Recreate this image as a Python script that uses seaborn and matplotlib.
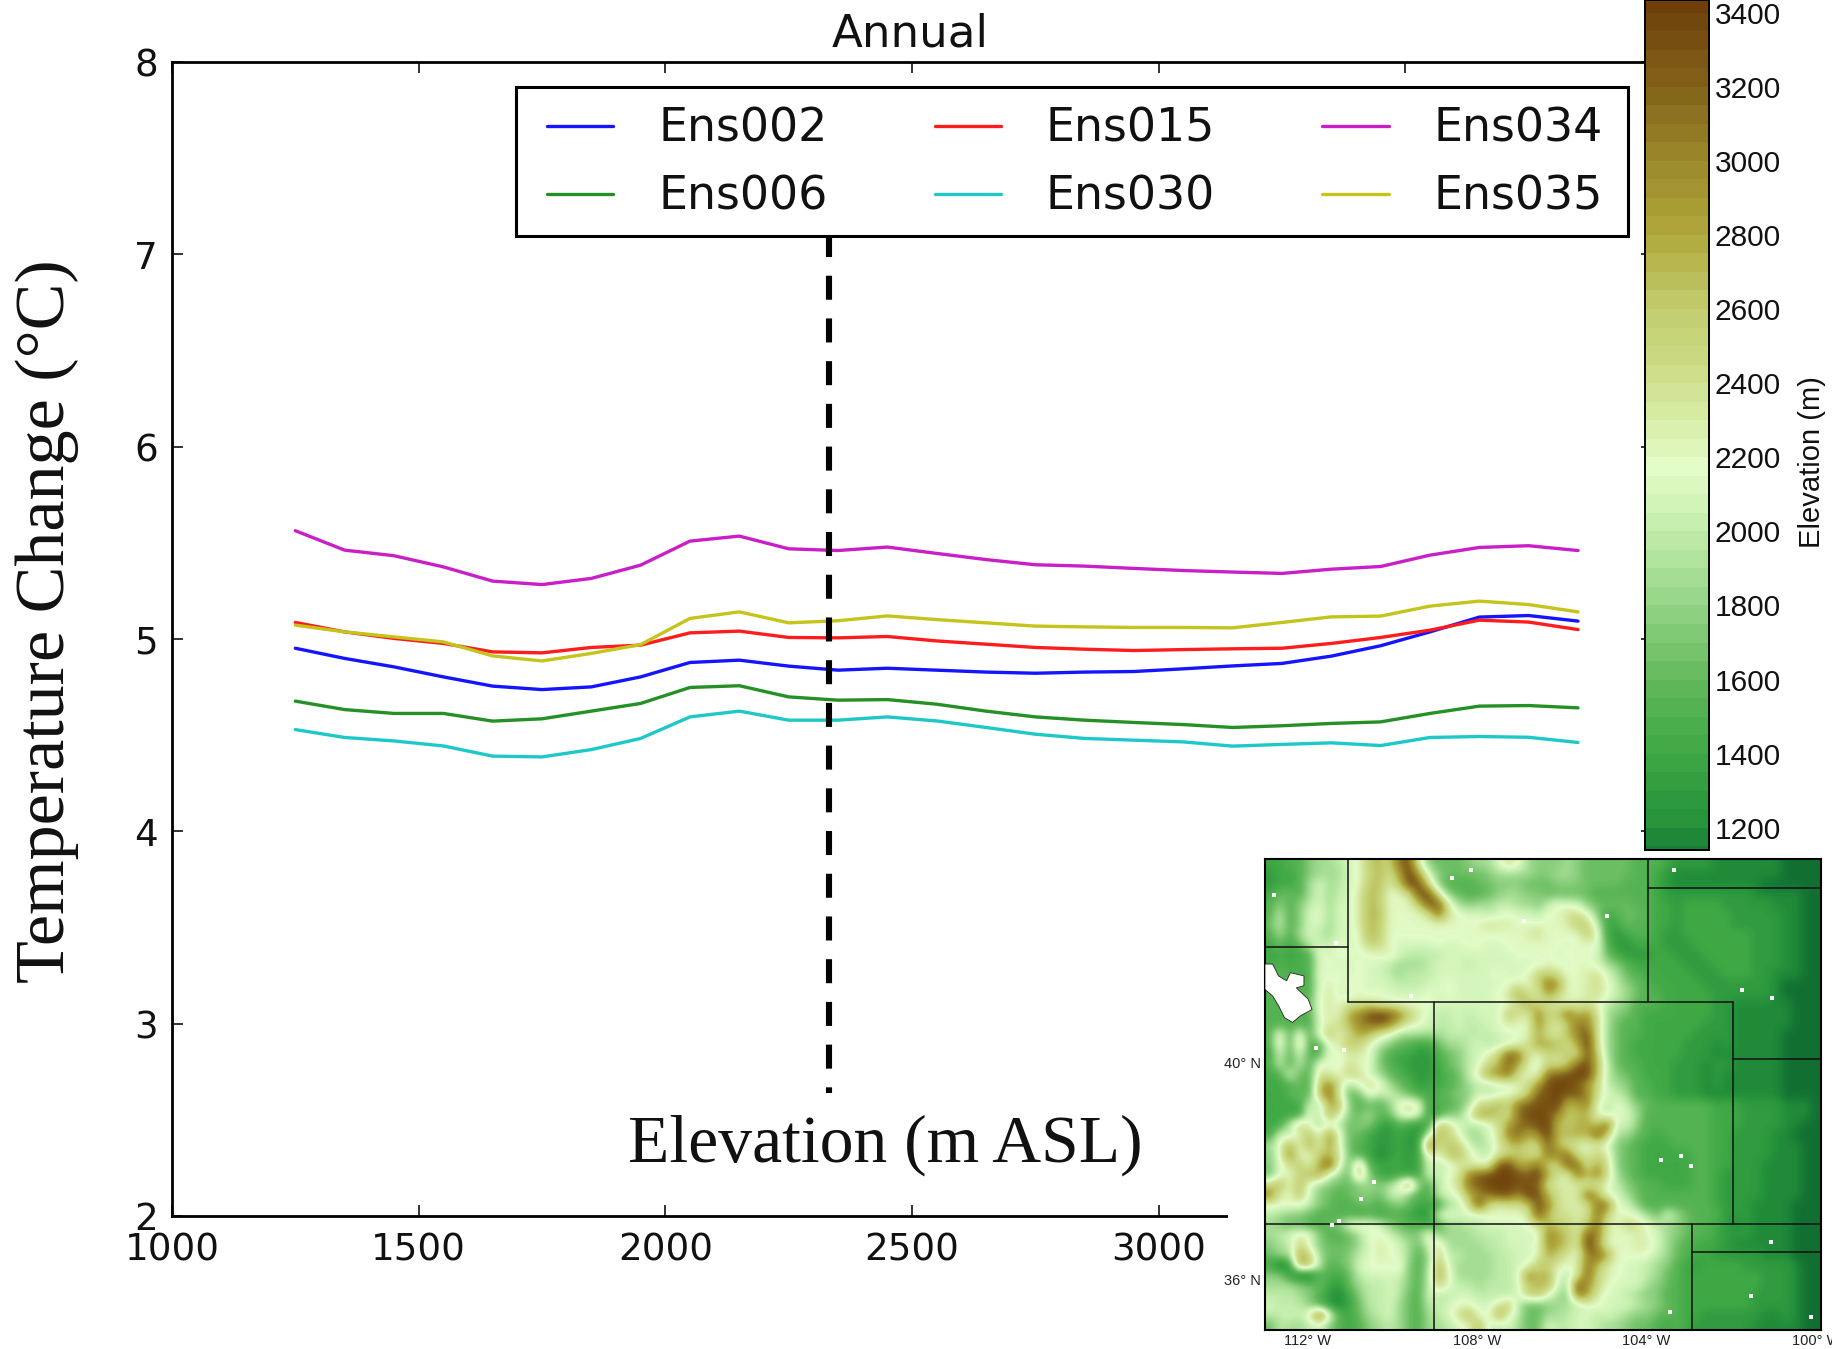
import numpy as np
import pandas as pd
import matplotlib
matplotlib.use("Agg")
import matplotlib.pyplot as plt
from matplotlib.colors import LinearSegmentedColormap
from matplotlib.patches import Rectangle
import seaborn as sns

elevation_bins = [1250, 1350, 1450, 1550, 1650, 1750, 1850, 1950, 2050, 2150, 2250, 2350, 2450, 2550,
                  2650, 2750, 2850, 2950, 3050, 3150, 3250, 3350, 3450, 3550, 3650, 3750, 3850]
ens002 = [4.952, 4.899, 4.855, 4.803, 4.755, 4.737, 4.751, 4.803, 4.878, 4.890, 4.859, 4.838, 4.848, 4.838,
          4.828, 4.822, 4.828, 4.831, 4.845, 4.860, 4.873, 4.911, 4.965, 5.037, 5.114, 5.122, 5.093]
ens006 = [4.677, 4.633, 4.613, 4.613, 4.573, 4.585, 4.625, 4.665, 4.748, 4.757, 4.699, 4.682, 4.685, 4.661,
          4.625, 4.595, 4.578, 4.566, 4.555, 4.540, 4.549, 4.561, 4.569, 4.613, 4.651, 4.654, 4.642]
ens015 = [5.086, 5.037, 5.003, 4.977, 4.933, 4.928, 4.956, 4.968, 5.032, 5.041, 5.008, 5.006, 5.013, 4.990,
          4.973, 4.956, 4.947, 4.940, 4.945, 4.949, 4.952, 4.977, 5.008, 5.046, 5.098, 5.088, 5.049]
ens030 = [4.529, 4.488, 4.470, 4.444, 4.391, 4.387, 4.425, 4.483, 4.595, 4.625, 4.578, 4.578, 4.595, 4.574,
          4.540, 4.505, 4.483, 4.474, 4.465, 4.443, 4.452, 4.460, 4.446, 4.488, 4.493, 4.489, 4.462]
ens034 = [5.563, 5.462, 5.433, 5.375, 5.301, 5.283, 5.315, 5.384, 5.509, 5.535, 5.469, 5.460, 5.478, 5.445,
          5.413, 5.386, 5.379, 5.367, 5.356, 5.348, 5.341, 5.363, 5.377, 5.436, 5.476, 5.485, 5.460]
ens035 = [5.072, 5.037, 5.011, 4.985, 4.912, 4.886, 4.925, 4.971, 5.107, 5.141, 5.084, 5.095, 5.120, 5.101,
          5.084, 5.067, 5.063, 5.060, 5.060, 5.058, 5.086, 5.115, 5.119, 5.171, 5.197, 5.179, 5.141]
series_names = ["Ens002", "Ens006", "Ens015", "Ens030", "Ens034", "Ens035"]
series_colors = ["#1414ff", "#259025", "#ff1c1c", "#1fc8c8", "#c81fc8", "#c4c41c"]

divider_x = [2332, 2332]
divider_y = [7.11, 2.639]

colorbar_ticks = list(range(1200, 3600, 200))
colorbar_levels = list(range(1100, 3500, 50))
cmap_stops = [(1000, "#0a6230"), (1200, "#23903a"), (1400, "#3fa845"), (1600, "#62b95a"), (1800, "#93d485"),
              (2000, "#c3eeac"), (2175, "#e3fcc8"), (2400, "#cfe08f"), (2600, "#c2cd6e"), (2800, "#b0a83c"),
              (3000, "#9c8a2c"), (3200, "#82621a"), (3500, "#683505")]

# terrain read by eye from the inset map: one base-36 digit per cell, metres = 1100 + 100 * digit
terrain_nw = [
    "44557889abfgekmc7666788adb87",
    "34457888abegdhnia76666788887",
    "34458a89abfgcfmme75556677766",
    "46658a89acgfbbdmmd7655678877",
    "57579a8aacgfbbbfmlc878899887",
    "5957ab8aacggbbbbdkdbaa9abaa9",
    "6957aa8aacgfbbbbbbbbbbdccbbb",
    "5858a98aabgfbbbbbbbbbbbbbbcd",
    "46469a9babeebaaaabaabbaabbbb",
    "44445babbabbca9999aaaaaaabbb",
    "45455abaabaa98889aaa9aaaaaaa",
    "55545bababaa98999aaaaaabaabe",
    "55555acabbaaa999aabaaaaabcbe",
    "55555bcaababaaaababaaaabchdc",
    "55556bcbddeccbbbbaaaaaaabdhe",
    "55555bcbhjmnmjfca99a9aaafdcj",
    "55555acdgjkljfcba99a99aacbbi",
    "5c5c5bfbehgcb8888899999aabbh",
    "5c5d55bcfeb9765446889a99abdh",
    "4a5a55baccb7544335679abelkdb",
    "59595bbadbb7543334679aeglhca",
    "45a65dcbeda8654334569chikdbb",
    "44565fjd8bdc86534456899aacdi",
    "44565gkc66b9a86545677a9abbfl",
]
terrain_ne = [
    "7787666665554333322222221111",
    "7887666665543222222222221111",
    "6777666655543222222222111111",
    "6666655555543333333332222211",
    "9baa766665544344443333322211",
    "bbddb74566544344444333332211",
    "bbcfe94465544344444333332211",
    "bbbbfb4345543344444443332211",
    "bbabbb5334443334444443332211",
    "babbba6433344333444443332211",
    "bbabba8754444433344443332211",
    "fdbbcda865444443334443322211",
    "kibbcdb976544444333333321111",
    "hebbcdb986554444433333321111",
    "dcccdb9875554444433222222111",
    "efkgid8765444444433222222111",
    "ecfkjd8655444444333222222111",
    "dcgjmd8655444443333222221111",
    "hgdhnd8654444433323222221111",
    "edfdmf8654444433322222221111",
    "edflmg9655444333233222221111",
    "klmnnf9765444333232222221111",
    "mnnlie9875544333232222221111",
    "mnlmjda985544333222222221111",
]
terrain_sw = [
    "4444a8hg75657bdb45568degeklm",
    "4444b9gc76866aca4477bhhfdkmn",
    "449eb8a9677435434fda99adhklm",
    "4a9cfbib664334339geb88acjlhj",
    "8bgbhbib65433433ldfea89cfgee",
    "7bjbbfgd65423434cbfgca9cefed",
    "7adfbhmb6f544434a9accbblnhhk",
    "6bbegha86g743444a9bcjlmnnmln",
    "egbga87667878bi759bdklnnnmml",
    "jcbfa76567769a7559abgjkmmjnm",
    "bbbb9765566567644489dmecddfm",
    "98776555545455433abaaabbbbcm",
    "87665567bcba7655458899aaaabd",
    "89acb75568bba877c7888999aaaa",
    "789ea76668acba86ad888899aaab",
    "688he86679acba858e9988899aab",
    "413hg9567abbbc758ga888899aaf",
    "7731155469aaaa759hb888899ajf",
    "888766436899a9759eb998999afg",
    "999875324799a965a99aa9999aef",
    "a99975324699a86599abbaacf966",
    "99a9clb54689a86589adgbahc966",
    "69889a7545789865889abga9a866",
]
terrain_se = [
    "mnghjb9b97655555544433332221",
    "mjfggb9ba8555555544433332221",
    "ngfghfl9a7555555544433332211",
    "nggh" "gmf88654555554433332211",
    "lgdcbca765444555544333322211",
    "kjkdcec765444445544333322211",
    "eemkdhd765444445544333222211",
    "hdbkgjd865444445543333222211",
    "dccccdb976554445543333222211",
    "gdcclgaa86555555543333222211",
    "jdccdkkaa7555555543332222111",
    "gddcdkebba86a865553332222111",
    "gfecfkcbedb98765543232222111",
    "jhfcmjcbbcba8765543332222111",
    "ihfcnibbbcca8654443222222111",
    "hfcbjlhbbbb9865443333322211",
    "ecbckgcbaa987543444433333211",
    "ha9clecbaa986544444444333211",
    "ga8miebaaa876544444444333211",
    "b87khcaa98775544444443333211",
    "7889bbaaa9876544444443333211",
    "889aa9a987765544333333223211",
    "a99aa98876654543333332222211",
]
# how the map's tints sit on the colour scale: its low ground reads darker than the bar
map_tint_from = [1100, 2100, 3500]
map_tint_to = [950, 2100, 3500]

map_lon_ticks = [-112, -108, -104, -100]
map_lon_labels = ["112° W", "108° W", "104° W", "100° W"]
map_lat_ticks = [40, 36]
map_lat_labels = ["40° N", "36° N"]
# state borders as (lons, lats)
border_lines = [
    ([-111.04, -111.04], [43.76, 41.11]),
    ([-113.01, -111.04], [42.14, 42.14]),
    ([-111.04, -101.96], [41.11, 41.11]),
    ([-109.02, -109.02], [41.11, 35.06]),
    ([-113.01, -99.88], [37.02, 37.02]),
    ([-103.97, -103.97], [43.76, 41.11]),
    ([-103.97, -99.88], [43.22, 43.22]),
    ([-101.96, -101.96], [41.11, 37.02]),
    ([-101.96, -99.88], [40.06, 40.06]),
    ([-102.92, -102.92], [37.02, 35.06]),
    ([-102.92, -99.88], [36.51, 36.51]),
]
lake_lon = [-113.01, -112.83, -112.69, -112.50, -112.41, -112.09, -112.09, -112.27, -111.99, -111.90, -112.18,
            -112.36, -112.55, -112.69, -112.83, -113.01]
lake_lat = [41.82, 41.82, 41.60, 41.51, 41.66, 41.60, 41.42, 41.38, 41.17, 40.98, 40.86, 40.74, 40.83, 41.05,
            41.23, 41.35]
speck_lon = [-108.15, -108.59, -106.89, -111.33, -109.56, -111.14, -104.93, -103.35, -101.75, -101.04, -110.74,
             -110.44, -111.26, -111.43, -102.95, -103.19, -103.66, -101.06, -101.53, -100.12, -103.45, -112.80,
             -111.81]
speck_lat = [43.56, 43.41, 42.61, 42.21, 41.23, 40.23, 42.71, 43.56, 41.34, 41.19, 37.48, 37.79, 37.07, 37.00,
             38.09, 38.27, 38.20, 36.69, 35.69, 35.30, 35.39, 43.09, 40.27]

W, H = 1833, 1349
sns.set_style("ticks")
plt.rcParams["font.family"] = ["DejaVu Sans"]


def fig_rect(x0, y0, x1, y1):
    return [x0 / W, 1 - y1 / H, (x1 - x0) / W, (y1 - y0) / H]


def decode(rows):
    width = 28
    return [[1100 + 100 * int(ch, 36) for ch in (r + r[-1] * width)[:width]] for r in rows]


fig = plt.figure(figsize=(W / 100, H / 100), dpi=100, facecolor="white")
ax = fig.add_axes(fig_rect(172, 62, 1652, 1216))

frame = pd.DataFrame({
    "elevation": elevation_bins * len(series_names),
    "change": ens002 + ens006 + ens015 + ens030 + ens034 + ens035,
    "run": [n for n in series_names for _ in elevation_bins],
})
sns.lineplot(data=frame, x="elevation", y="change", hue="run", hue_order=series_names,
             palette=series_colors, estimator=None, sort=False, linewidth=2.4, ax=ax, legend=True)
ax.set_xlim(1000, 4000)
ax.set_ylim(2, 8)
ax.set_xticks(range(1000, 4500, 500))
ax.set_yticks(range(2, 9))
ax.tick_params(direction="in", top=True, right=True, length=8, width=1.2, labelsize=26.8, colors="#111111")
ax.tick_params(axis="x", pad=11)
ax.tick_params(axis="y", pad=10)
for s in ax.spines.values():
    s.set_visible(True)
    s.set_linewidth(2.0)
    s.set_color("black")
ax.set_xlabel("")
ax.set_ylabel("")
ax.set_title("Annual", fontsize=32.5, pad=11, color="#111111", x=0.4985)

ax.plot(divider_x, divider_y, color="black", lw=4.4, dashes=(3.93, 3.06), dash_capstyle="butt", zorder=5)

ax.add_patch(Rectangle((516 / W, 1 - 236 / H), (1628 - 516) / W, (236 - 87) / H, transform=fig.transFigure,
                       facecolor="white", edgecolor="black", linewidth=2.2, zorder=5.5, clip_on=False))
handles, labels = ax.get_legend_handles_labels()
leg = ax.legend(handles, labels, ncol=3, loc="upper left", bbox_to_anchor=((547 - 172) / 1480, 1 - (107 - 62) / 1154),
                borderaxespad=0, fontsize=33, frameon=False, handlelength=1.45, handletextpad=0.98,
                columnspacing=2.33, labelspacing=0.5, borderpad=0)
leg.set_zorder(6)
for t in leg.get_texts():
    t.set_color("#111111")

fig.text(47 / W, 1 - 621 / H, "Temperature Change (°C)", rotation=90, ha="center", va="center",
         family="Liberation Serif", fontsize=50.5, color="#111111")
fig.text(885 / W, 1 - 1145 / H, "Elevation (m ASL)", ha="center", va="center",
         family="Liberation Serif", fontsize=48.7, color="#111111", zorder=7)

# white backing for the inset
cover = fig.add_axes(fig_rect(1228, 850, W, H), zorder=3)
cover.set_axis_off()
cover.add_patch(Rectangle((0, 0), 1, 1, transform=cover.transAxes, color="white"))

positions, colors = zip(*cmap_stops)
low, high = positions[0], positions[-1]
cmap = LinearSegmentedColormap.from_list("terrain_like", [((p - low) / (high - low), c) for p, c in cmap_stops])

# colour bar
cax = fig.add_axes(fig_rect(1645, 0, 1709, 850), zorder=4)
levels = np.array(colorbar_levels)
cax.pcolormesh([0, 1], levels, ((levels[:-1] + levels[1:]) / 2)[:, None], cmap=cmap, vmin=low, vmax=high)
cax.set_ylim(1140, 3434)
cax.set_xlim(0, 1)
cax.set_xticks([])
cax.yaxis.tick_right()
cax.set_yticks(colorbar_ticks)
cax.tick_params(axis="y", direction="in", left=True, right=True, length=10, width=1.2, pad=4, labelsize=21.5)
for lab in cax.get_yticklabels():
    lab.set_family("Liberation Sans")
    lab.set_color("#111111")
for s in cax.spines.values():
    s.set_linewidth(1.4)
    s.set_color("black")
fig.text(1812 / W, 1 - 462 / H, "Elevation (m)", rotation=90, ha="center", va="center",
         family="Liberation Sans", fontsize=21, color="#111111", zorder=8)

# inset terrain map
mp = fig.add_axes(fig_rect(1265, 859, 1821, 1330), zorder=5)
grid = np.vstack([np.hstack([decode(terrain_nw), decode(terrain_ne)]),
                  np.hstack([decode(terrain_sw), decode(terrain_se)])]).astype(float)
mp.imshow(np.interp(grid, map_tint_from, map_tint_to), cmap=cmap, vmin=low, vmax=high,
          extent=(-113.01, -99.88, 35.06, 43.76), aspect="auto", interpolation="bicubic", origin="upper")
for lons, lats in border_lines:
    mp.plot(lons, lats, color="#111111", lw=1.1)
mp.fill(lake_lon, lake_lat, color="white", ec="#222222", lw=0.6, zorder=3)
mp.scatter(speck_lon, speck_lat, s=9, c="white", marker="s", linewidths=0, zorder=3)
mp.set_xlim(-113.01, -99.88)
mp.set_ylim(35.06, 43.76)
mp.set_xticks(map_lon_ticks, map_lon_labels)
mp.set_yticks(map_lat_ticks, map_lat_labels)
mp.tick_params(length=0, pad=3, labelsize=10.5, colors="#222222")
for lab in mp.get_xticklabels() + mp.get_yticklabels():
    lab.set_family("Liberation Sans")
    lab.set_clip_on(False)
for s in mp.spines.values():
    s.set_visible(True)
    s.set_linewidth(1.5)
    s.set_color("black")

fig.savefig("out.png", dpi=100, facecolor="white")
